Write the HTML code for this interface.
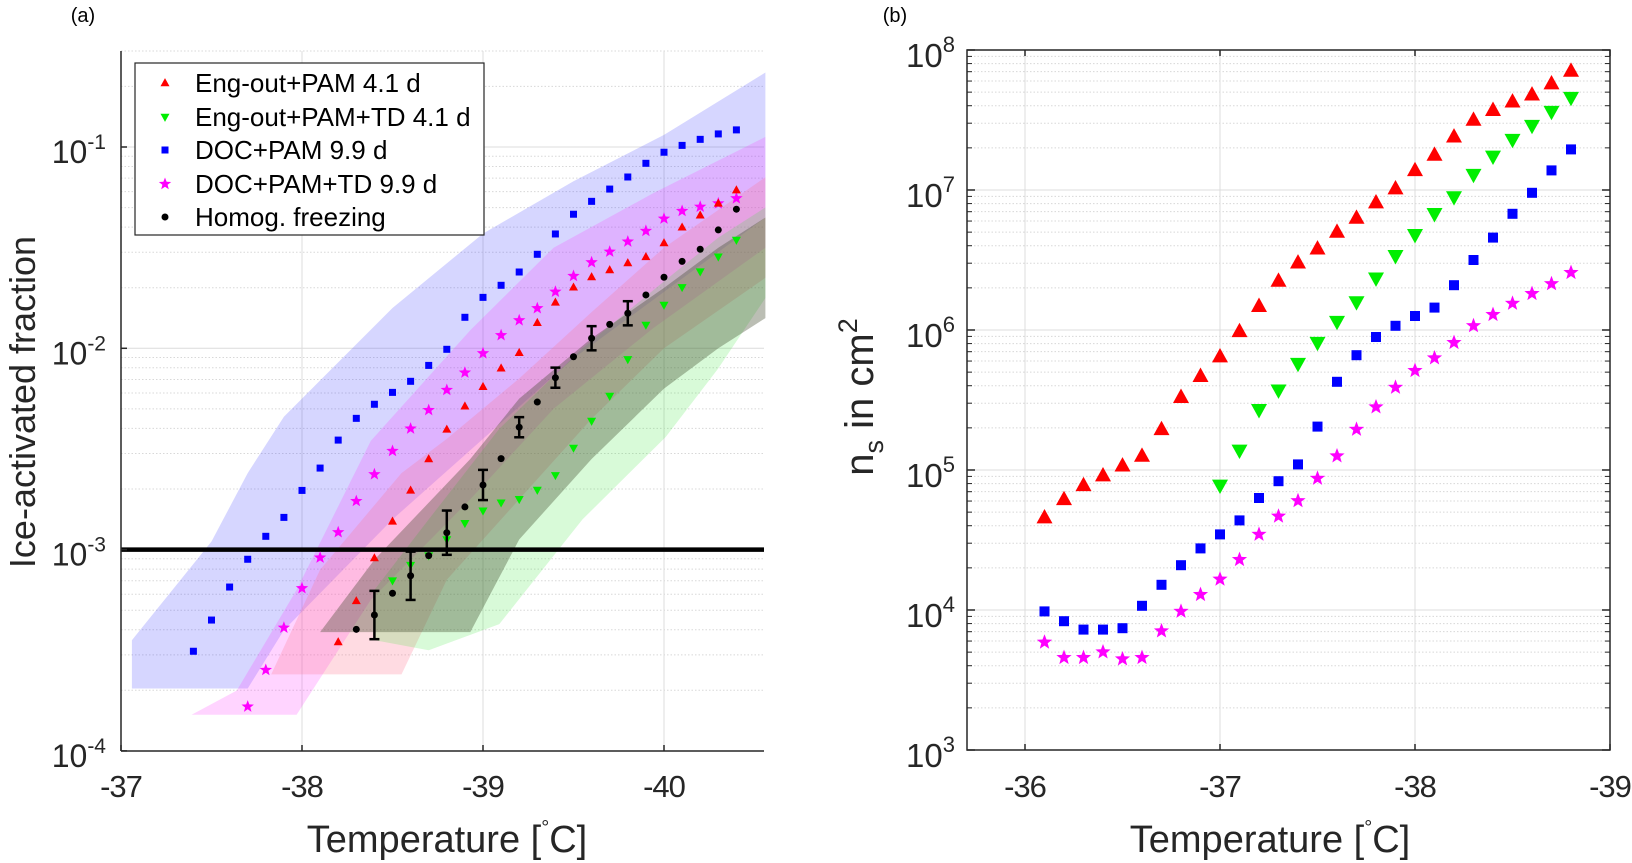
<!DOCTYPE html>
<html><head><meta charset="utf-8"><style>
html,body{margin:0;padding:0;background:#fff;}
svg{display:block;font-family:"Liberation Sans",Arial,sans-serif;}
</style></head><body>
<svg id="fig" width="1632" height="863" viewBox="0 0 1632 863" xmlns="http://www.w3.org/2000/svg"></svg>
<script>
// ---------- Panel (a) data: log10 of ice-activated fraction ----------
const blueT=[-37.4,-37.5,-37.6,-37.7,-37.8,-37.9,-38.0,-38.1,-38.2,-38.3,-38.4,-38.5,-38.6,-38.7,-38.8,-38.9,-39.0,-39.1,-39.2,-39.3,-39.4,-39.5,-39.6,-39.7,-39.8,-39.9,-40.0,-40.1,-40.2,-40.3,-40.4];
const blueLog=[-3.505,-3.35,-3.186,-3.048,-2.934,-2.840,-2.706,-2.595,-2.456,-2.348,-2.278,-2.219,-2.164,-2.085,-2.005,-1.846,-1.747,-1.687,-1.621,-1.533,-1.432,-1.334,-1.270,-1.209,-1.149,-1.081,-1.026,-0.992,-0.962,-0.935,-0.915];
const magT=[-37.7,-37.8,-37.9,-38.0,-38.1,-38.2,-38.3,-38.4,-38.5,-38.6,-38.7,-38.8,-38.9,-39.0,-39.1,-39.2,-39.3,-39.4,-39.5,-39.6,-39.7,-39.8,-39.9,-40.0,-40.1,-40.2,-40.3,-40.4];
const magLog=[-3.78,-3.598,-3.388,-3.192,-3.040,-2.914,-2.759,-2.626,-2.510,-2.399,-2.307,-2.207,-2.121,-2.025,-1.935,-1.861,-1.801,-1.719,-1.641,-1.573,-1.520,-1.470,-1.417,-1.356,-1.318,-1.297,-1.280,-1.255];
const redT=[-38.2,-38.3,-38.4,-38.5,-38.6,-38.7,-38.8,-38.9,-39.0,-39.1,-39.2,-39.3,-39.4,-39.5,-39.6,-39.7,-39.8,-39.9,-40.0,-40.1,-40.2,-40.3,-40.4];
const redLog=[-3.459,-3.255,-3.042,-2.860,-2.706,-2.550,-2.403,-2.288,-2.191,-2.099,-2.022,-1.873,-1.772,-1.697,-1.646,-1.611,-1.576,-1.546,-1.477,-1.399,-1.339,-1.28,-1.214];
const greenT=[-38.5,-38.6,-38.7,-38.8,-38.9,-39.0,-39.1,-39.2,-39.3,-39.4,-39.5,-39.6,-39.7,-39.8,-39.9,-40.0,-40.1,-40.2,-40.3,-40.4];
const greenLog=[-3.154,-3.077,-3.03,-2.95,-2.869,-2.807,-2.767,-2.750,-2.704,-2.631,-2.495,-2.361,-2.237,-2.055,-1.884,-1.785,-1.697,-1.619,-1.545,-1.462];
const homogT=[-38.3,-38.4,-38.5,-38.6,-38.7,-38.8,-38.9,-39.0,-39.1,-39.2,-39.3,-39.4,-39.5,-39.6,-39.7,-39.8,-39.9,-40.0,-40.1,-40.2,-40.3,-40.4];
const homogLog=[-3.396,-3.325,-3.217,-3.130,-3.030,-2.916,-2.788,-2.679,-2.548,-2.392,-2.267,-2.146,-2.042,-1.950,-1.881,-1.826,-1.735,-1.647,-1.568,-1.508,-1.412,-1.309];
const homogErr=[0,0.12,0,0.12,0,0.11,0,0.075,0,0.05,0,0.05,0,0.06,0,0.06,0,0,0,0,0,0];
// shaded bands: temperature and log10 upper / lower edges
const bandBlueT=[-37.06,-37.5,-37.7,-37.9,-38.5,-39.0,-39.5,-40.0,-40.56];
const bandBlueHi=[-3.45,-2.96,-2.62,-2.34,-1.80,-1.43,-1.17,-0.94,-0.63];
const bandBlueLo=[-3.69,-3.69,-3.69,-3.4,-2.85,-2.45,-2.05,-1.72,-1.35];
const bandMagT=[-37.39,-37.64,-37.97,-38.38,-38.93,-39.39,-39.94,-40.56];
const bandMagHi=[-3.82,-3.70,-3.20,-2.46,-1.91,-1.50,-1.23,-0.95];
const bandMagLo=[-3.82,-3.82,-3.82,-3.25,-2.75,-2.3,-1.9,-1.5];
const bandRedT=[-37.83,-38.1,-38.55,-38.8,-39.2,-39.6,-40.0,-40.56];
const bandRedHi=[-3.62,-3.1,-2.62,-2.45,-2.15,-1.82,-1.5,-1.15];
const bandRedLo=[-3.62,-3.62,-3.62,-3.15,-2.75,-2.35,-2.0,-1.65];
const bandGreenT=[-38.4,-38.7,-39.09,-39.55,-40.01,-40.3,-40.56];
const bandGreenHi=[-3.2,-2.85,-2.4,-2.0,-1.66,-1.45,-1.3];
const bandGreenLo=[-3.45,-3.5,-3.37,-2.85,-2.44,-2.1,-1.75];
const bandHomT=[-38.1,-38.4,-38.93,-39.2,-39.6,-40.0,-40.3,-40.56];
const bandHomHi=[-3.41,-3.05,-2.55,-2.25,-1.95,-1.7,-1.5,-1.35];
const bandHomLo=[-3.41,-3.41,-3.41,-2.95,-2.55,-2.2,-2.0,-1.85];
const xTicksA=[-37,-38,-39,-40];
const yTicksA=[-1,-2,-3,-4];
const thresholdLog=-3;

// ---------- Panel (b) data: log10 of n_s ----------
const tB=[-36.1,-36.2,-36.3,-36.4,-36.5,-36.6,-36.7,-36.8,-36.9,-37.0,-37.1,-37.2,-37.3,-37.4,-37.5,-37.6,-37.7,-37.8,-37.9,-38.0,-38.1,-38.2,-38.3,-38.4,-38.5,-38.6,-38.7,-38.8];
const redNsLog=[4.66,4.79,4.89,4.96,5.03,5.10,5.29,5.52,5.67,5.81,5.99,6.17,6.35,6.48,6.58,6.70,6.80,6.91,7.01,7.14,7.25,7.38,7.50,7.57,7.63,7.68,7.76,7.85];
const greenNsT=[-37.0,-37.1,-37.2,-37.3,-37.4,-37.5,-37.6,-37.7,-37.8,-37.9,-38.0,-38.1,-38.2,-38.3,-38.4,-38.5,-38.6,-38.7,-38.8];
const greenNsLog=[4.89,5.14,5.43,5.57,5.76,5.91,6.06,6.20,6.37,6.53,6.68,6.83,6.95,7.11,7.24,7.36,7.46,7.56,7.66];
const blueNsLog=[3.99,3.92,3.86,3.86,3.87,4.03,4.18,4.32,4.44,4.54,4.64,4.80,4.92,5.04,5.31,5.63,5.82,5.95,6.03,6.10,6.16,6.32,6.50,6.66,6.83,6.98,7.14,7.29];
const magNsLog=[3.77,3.66,3.66,3.70,3.65,3.66,3.85,3.99,4.11,4.22,4.36,4.54,4.67,4.78,4.94,5.10,5.29,5.45,5.59,5.71,5.80,5.91,6.03,6.11,6.19,6.26,6.33,6.41];
const xTicksB=[-36,-37,-38,-39];
const yTicksB=[3,4,5,6,7,8];

const NS='http://www.w3.org/2000/svg';
const svg=document.getElementById('fig');
function el(tag,attrs,parent){const e=document.createElementNS(NS,tag);for(const k in attrs)e.setAttribute(k,attrs[k]);(parent||svg).appendChild(e);return e;}

const A={l:121,r:764,t:51,b:751};
const B={l:967,r:1610,t:50,b:750};
const xA=T=>121+(-37-T)*181;
const yA=L=>147+(-1-L)*201.3;
const xB=T=>1220+(-37-T)*195;
const yB=L=>50+(8-L)*140;

function tri(g,x,y,s,up,color){const h=s*0.9;const pts=up?`${x},${y-h*0.6} ${x-s/2},${y+h*0.4} ${x+s/2},${y+h*0.4}`:`${x},${y+h*0.6} ${x-s/2},${y-h*0.4} ${x+s/2},${y-h*0.4}`;return el('polygon',{points:pts,fill:color},g);}
function sq(g,x,y,s,color){return el('rect',{x:x-s/2,y:y-s/2,width:s,height:s,fill:color},g);}
function star(g,x,y,r,color){let p=[];for(let i=0;i<10;i++){const a=-Math.PI/2+i*Math.PI/5;const rr=i%2?r*0.42:r;p.push((x+rr*Math.cos(a)).toFixed(1)+','+(y+rr*Math.sin(a)).toFixed(1));}return el('polygon',{points:p.join(' '),fill:color},g);}
function dot(g,x,y,r,color){return el('circle',{cx:x,cy:y,r:r,fill:color},g);}

// ================= PANEL A =================
const ga=el('g',{});


el('text',{x:83,y:22,'font-size':20,fill:'#000','text-anchor':'middle'},ga).textContent='(a)';
const gridA=el('g',{},ga);


for(let d=-4;d<0;d++){for(let m=2;m<10;m++){const y=yA(d+Math.log10(m));if(y<A.t)continue;el('line',{x1:A.l,x2:A.r,y1:y,y2:y,stroke:'#d8d8d8','stroke-width':1,'stroke-dasharray':'1.5,2'},gridA);}}
el('line',{x1:A.l,x2:A.r,y1:A.t,y2:A.t,stroke:'#d8d8d8','stroke-width':1,'stroke-dasharray':'1.5,2'},gridA);
yTicksA.forEach(L=>{if(L>-4)el('line',{x1:A.l,x2:A.r,y1:yA(L),y2:yA(L),stroke:'#dcdcdc','stroke-width':1},gridA);});
xTicksA.forEach(T=>{if(T<-37)el('line',{x1:xA(T),x2:xA(T),y1:A.t,y2:A.b,stroke:'#dcdcdc','stroke-width':1},gridA);});
function band(g,T,hi,lo,fill,name){let p=[];for(let i=0;i<T.length;i++)p.push(xA(T[i]).toFixed(1)+','+yA(hi[i]).toFixed(1));for(let i=T.length-1;i>=0;i--)p.push(xA(T[i]).toFixed(1)+','+yA(lo[i]).toFixed(1));const e=el('polygon',{points:p.join(' '),fill:fill},g);

}
const gb=el('g',{},ga);
band(gb,bandBlueT,bandBlueHi,bandBlueLo,'rgba(70,70,255,0.22)','band-doc-pam');
band(gb,bandMagT,bandMagHi,bandMagLo,'rgba(255,40,255,0.2)','band-doc-pam-td');
band(gb,bandRedT,bandRedHi,bandRedLo,'rgba(255,110,140,0.25)','band-eng-out-pam');
band(gb,bandGreenT,bandGreenHi,bandGreenLo,'rgba(60,230,60,0.2)','band-eng-out-pam-td');
band(gb,bandHomT,bandHomHi,bandHomLo,'rgba(60,70,40,0.35)','band-homog-freezing');
const th=el('line',{x1:A.l,x2:A.r,y1:yA(thresholdLog),y2:yA(thresholdLog),stroke:'#000','stroke-width':4.5},ga);


const sA1=el('g',{},ga);


blueT.forEach((T,i)=>sq(sA1,xA(T),yA(blueLog[i]),7,'#0000ff'));
const sA2=el('g',{},ga);


magT.forEach((T,i)=>star(sA2,xA(T),yA(magLog[i]),6.5,'#ff00ff'));
const sA3=el('g',{},ga);


redT.forEach((T,i)=>tri(sA3,xA(T),yA(redLog[i]),9,true,'#ff0000'));
const sA4=el('g',{},ga);


greenT.forEach((T,i)=>tri(sA4,xA(T),yA(greenLog[i]),9,false,'#00ee00'));
const sA5=el('g',{},ga);


homogT.forEach((T,i)=>{const x=xA(T),y=yA(homogLog[i]);dot(sA5,x,y,3.5,'#000');const e=homogErr[i];if(e>0){const y1=yA(homogLog[i]+e),y2=yA(homogLog[i]-e);el('line',{x1:x,x2:x,y1:y1,y2:y2,stroke:'#000','stroke-width':2.5},sA5);el('line',{x1:x-5,x2:x+5,y1:y1,y2:y1,stroke:'#000','stroke-width':2.5},sA5);el('line',{x1:x-5,x2:x+5,y1:y2,y2:y2,stroke:'#000','stroke-width':2.5},sA5);}});
el('line',{x1:A.l,x2:A.l,y1:A.t,y2:A.b,stroke:'#262626','stroke-width':1.5},ga);
el('line',{x1:A.l,x2:A.r,y1:A.b,y2:A.b,stroke:'#262626','stroke-width':1.5},ga);
xTicksA.forEach(T=>{const x=xA(T);el('line',{x1:x,x2:x,y1:A.b,y2:A.b-6,stroke:'#262626','stroke-width':1.5},ga);const t=el('text',{x:x,y:797,'font-size':31,fill:'#262626','text-anchor':'middle','letter-spacing':'-1'},ga);t.textContent=String(T);

});
yTicksA.forEach(L=>{const y=yA(L);el('line',{x1:A.l,x2:A.l+6,y1:y,y2:y,stroke:'#262626','stroke-width':1.5},ga);const t=el('text',{x:106,y:y+16,'font-size':32,fill:'#262626','text-anchor':'end'},ga);t.innerHTML='10<tspan dy="-14" font-size="21">'+L+'</tspan>';

});
const xlA=el('text',{x:447,y:852,'font-size':38,fill:'#262626','text-anchor':'middle'},ga);
xlA.innerHTML='Temperature [<tspan dy="-18" font-size="20">°</tspan><tspan dy="18">C]</tspan>';


const ylA=el('text',{x:0,y:0,'font-size':36,fill:'#262626','text-anchor':'middle',transform:'translate(35,402) rotate(-90)'},ga);
ylA.textContent='Ice-activated fraction';


const lg=el('g',{},ga);


el('rect',{x:135,y:63,width:349,height:172,fill:'#fff',stroke:'#262626','stroke-width':1.2},lg);
const legNames=['Eng-out+PAM 4.1 d','Eng-out+PAM+TD 4.1 d','DOC+PAM 9.9 d','DOC+PAM+TD 9.9 d','Homog. freezing'];
const legY=[83,117,150,184,217];
legNames.forEach((n,i)=>{const y=legY[i];const mx=165;
if(i==0)tri(lg,mx,y,9,true,'#ff0000');if(i==1)tri(lg,mx,y,9,false,'#00ee00');if(i==2)sq(lg,mx,y,7,'#0000ff');if(i==3)star(lg,mx,y,6.5,'#ff00ff');if(i==4)dot(lg,mx,y,3.5,'#000');
const t=el('text',{x:195,y:y+9,'font-size':26,fill:'#000'},lg);t.textContent=n;

});

// ================= PANEL B =================
const gB=el('g',{});


el('text',{x:895,y:22,'font-size':20,fill:'#000','text-anchor':'middle'},gB).textContent='(b)';
const gridB=el('g',{},gB);


for(let d=3;d<8;d++){for(let m=2;m<10;m++){const y=yB(d+Math.log10(m));el('line',{x1:B.l,x2:B.r,y1:y,y2:y,stroke:'#d8d8d8','stroke-width':1,'stroke-dasharray':'1.5,2'},gridB);el('line',{x1:B.r,x2:B.r-5,y1:y,y2:y,stroke:'#262626','stroke-width':1},gridB);el('line',{x1:B.l,x2:B.l+5,y1:y,y2:y,stroke:'#262626','stroke-width':1},gridB);}}
yTicksB.forEach(L=>{if(L>3&&L<8)el('line',{x1:B.l,x2:B.r,y1:yB(L),y2:yB(L),stroke:'#dcdcdc','stroke-width':1},gridB);});
xTicksB.forEach(T=>{if(T>-39)el('line',{x1:xB(T),x2:xB(T),y1:B.t,y2:B.b,stroke:'#dcdcdc','stroke-width':1},gridB);});
const sB1=el('g',{},gB);


tB.forEach((T,i)=>tri(sB1,xB(T),yB(redNsLog[i]),16,true,'#ff0000'));
const sB2=el('g',{},gB);


greenNsT.forEach((T,i)=>tri(sB2,xB(T),yB(greenNsLog[i]),16,false,'#00ee00'));
const sB3=el('g',{},gB);


tB.forEach((T,i)=>sq(sB3,xB(T),yB(blueNsLog[i]),10,'#0000ff'));
const sB4=el('g',{},gB);


tB.forEach((T,i)=>star(sB4,xB(T),yB(magNsLog[i]),8,'#ff00ff'));
el('rect',{x:B.l,y:B.t,width:B.r-B.l,height:B.b-B.t,fill:'none',stroke:'#262626','stroke-width':1.5},gB);
xTicksB.forEach(T=>{const x=xB(T);el('line',{x1:x,x2:x,y1:B.b,y2:B.b-6,stroke:'#262626','stroke-width':1.5},gB);el('line',{x1:x,x2:x,y1:B.t,y2:B.t+6,stroke:'#262626','stroke-width':1.5},gB);const t=el('text',{x:x,y:797,'font-size':31,fill:'#262626','text-anchor':'middle','letter-spacing':'-1'},gB);t.textContent=String(T);

});
yTicksB.forEach(L=>{const y=yB(L);el('line',{x1:B.l,x2:B.l+8,y1:y,y2:y,stroke:'#262626','stroke-width':1.5},gB);el('line',{x1:B.r,x2:B.r-8,y1:y,y2:y,stroke:'#262626','stroke-width':1.5},gB);const t=el('text',{x:955,y:y+17,'font-size':33,fill:'#262626','text-anchor':'end'},gB);t.innerHTML='10<tspan dy="-15" font-size="22">'+L+'</tspan>';

});
const xlB=el('text',{x:1270,y:852,'font-size':38,fill:'#262626','text-anchor':'middle'},gB);
xlB.innerHTML='Temperature [<tspan dy="-18" font-size="20">°</tspan><tspan dy="18">C]</tspan>';


const ylB=el('text',{x:0,y:0,'font-size':40,fill:'#262626','text-anchor':'middle',transform:'translate(873,397) rotate(-90)'},gB);
ylB.innerHTML='n<tspan dy="10" font-size="27">s</tspan><tspan dy="-10"> in cm</tspan><tspan dy="-16" font-size="27">2</tspan>';


</script>
</body></html>
